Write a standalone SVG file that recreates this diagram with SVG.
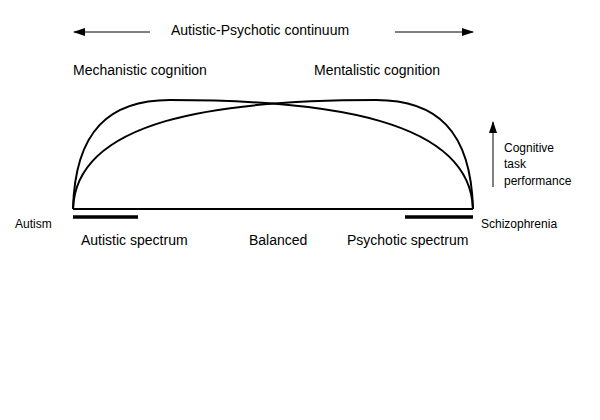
<svg xmlns="http://www.w3.org/2000/svg" width="600" height="420" viewBox="0 0 600 420">
<style>
text{font-family:"Liberation Sans",Arial,sans-serif;fill:#000}
.m{font-size:14px}.s{font-size:12px}
.c{fill:none;stroke:#000;stroke-width:2}
</style>
<defs><marker id="a" markerWidth="12" markerHeight="8" refX="11" refY="4" orient="auto" markerUnits="userSpaceOnUse"><path d="M0,0L12,4L0,8z" fill="#000"/></marker></defs>
<rect width="600" height="420" fill="#fff"/>
<g id="connectors">
<line x1="150" y1="32" x2="74" y2="32" stroke="#000" marker-end="url(#a)"/>
<line x1="395" y1="32" x2="473" y2="32" stroke="#000" marker-end="url(#a)"/>
<line x1="493" y1="187" x2="493" y2="122" stroke="#000" marker-end="url(#a)"/>
<path class="c" d="M73,209 C75,130 110,100 170,100 C330,100 470,120 473,209"/>
<path class="c" d="M473,209 C471,130 436,100 376,100 C216,100 76,120 73,209"/>
<line x1="73" y1="209" x2="473" y2="209" stroke="#000" stroke-width="2"/>
<line x1="73" y1="217" x2="138" y2="217" stroke="#000" stroke-width="3.5"/>
<line x1="405" y1="217" x2="473" y2="217" stroke="#000" stroke-width="3.5"/>
</g>
<g id="title"><text class="m" x="260" y="35" text-anchor="middle">Autistic-Psychotic continuum</text></g>
<g id="mech"><text class="m" x="73" y="75">Mechanistic cognition</text></g>
<g id="ment"><text class="m" x="314" y="75">Mentalistic cognition</text></g>
<g id="autism"><text class="s" x="15" y="228">Autism</text></g>
<g id="schiz"><text class="s" x="481" y="228">Schizophrenia</text></g>
<g id="as"><text class="m" x="81" y="245">Autistic spectrum</text></g>
<g id="bal"><text class="m" x="249" y="245">Balanced</text></g>
<g id="ps"><text class="m" x="347" y="245">Psychotic spectrum</text></g>
<g id="ctp"><text class="s" x="504" y="152">Cognitive</text><text class="s" x="504" y="168">task</text><text class="s" x="504" y="185">performance</text></g>
</svg>
